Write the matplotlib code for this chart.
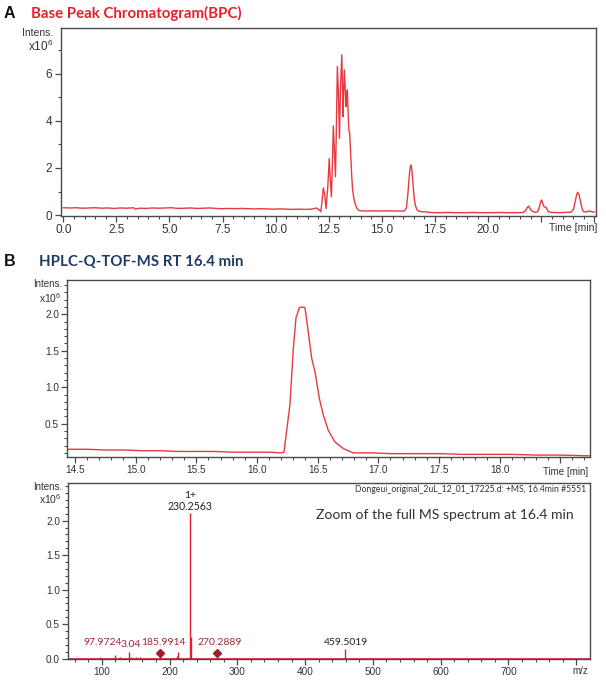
import matplotlib
matplotlib.use("Agg")
import matplotlib.pyplot as plt
from matplotlib.ticker import MultipleLocator

plt.rcParams['font.family'] = ['Liberation Sans', 'DejaVu Sans']
plt.rcParams['mathtext.default'] = 'regular'

# ---------------- data ----------------
# Panel A: base peak chromatogram (time in min, intensity x10^6)
bpc_time = [0.0, 0.3, 0.6, 0.9, 1.2, 1.5, 1.8, 2.1, 2.4, 2.7, 3.0, 3.3, 3.4, 3.6, 3.9,
            4.2, 4.5, 4.8, 5.1, 5.4, 5.7, 6.0, 6.3, 6.6, 6.9, 7.2, 7.5, 7.8, 8.1, 8.4,
            8.7, 9.0, 9.3, 9.6, 9.9, 10.2, 10.5, 10.8, 11.1, 11.4, 11.7, 11.9, 12.05,
            12.12, 12.17, 12.24, 12.30, 12.37, 12.45, 12.52, 12.57, 12.62, 12.67, 12.71,
            12.76, 12.81, 12.85, 12.90, 12.95, 13.00, 13.05, 13.11, 13.14, 13.17, 13.20,
            13.23, 13.27, 13.31, 13.34, 13.37, 13.40, 13.44, 13.48, 13.51, 13.55, 13.58,
            13.62, 13.67, 13.73, 13.80, 13.89, 14.0, 14.3, 14.6, 14.9, 15.2, 15.5, 15.8,
            16.05, 16.15, 16.22, 16.28, 16.33, 16.37, 16.41, 16.46, 16.52, 16.58, 16.65,
            16.75, 16.9, 17.1, 17.3, 17.5, 17.8, 18.1, 18.4, 18.7, 19.0, 19.3, 19.6, 19.9,
            20.2, 20.5, 20.8, 21.1, 21.4, 21.65, 21.75, 21.84, 21.91, 21.98, 22.05, 22.2,
            22.32, 22.40, 22.47, 22.52, 22.58, 22.63, 22.72, 22.78, 22.84, 23.0, 23.3,
            23.6, 23.9, 24.02, 24.10, 24.17, 24.22, 24.28, 24.36, 24.43, 24.49, 24.6,
            24.72, 24.80, 24.9, 25.0]
bpc_intensity = [0.31, 0.30, 0.31, 0.29, 0.30, 0.31, 0.29, 0.30, 0.28, 0.30, 0.29, 0.31, 0.25, 0.29, 0.28,
                 0.30, 0.29, 0.30, 0.31, 0.28, 0.29, 0.30, 0.28, 0.29, 0.30, 0.28, 0.27, 0.28, 0.27, 0.28,
                 0.27, 0.26, 0.27, 0.26, 0.25, 0.26, 0.25, 0.24, 0.25, 0.24, 0.25, 0.30, 0.22,
                 0.14, 0.50, 1.15, 0.90, 0.28, 1.20, 2.40, 1.50, 0.78, 2.20, 3.79,
                 2.80, 1.63, 3.50, 6.31, 5.20, 3.26, 5.50, 6.81, 5.60, 4.18, 5.30,
                 6.17, 5.40, 4.61, 5.00, 5.32, 4.50, 3.62, 3.49, 2.90, 2.06, 1.60,
                 1.06, 0.75, 0.50, 0.32, 0.21, 0.18, 0.17, 0.18, 0.17, 0.18, 0.17, 0.17,
                 0.17, 0.30, 0.90, 1.60, 2.05, 2.12, 1.90, 1.30, 0.70, 0.38, 0.22,
                 0.16, 0.14, 0.13, 0.11, 0.10, 0.10, 0.11, 0.10, 0.10, 0.10, 0.11, 0.10, 0.10,
                 0.10, 0.11, 0.10, 0.10, 0.10, 0.11, 0.18, 0.32, 0.38, 0.26, 0.17, 0.12,
                 0.13, 0.30, 0.58, 0.64, 0.45, 0.35, 0.33, 0.22, 0.14, 0.11, 0.10,
                 0.11, 0.12, 0.25, 0.60, 0.90, 0.97, 0.85, 0.50, 0.24, 0.14, 0.13,
                 0.16, 0.17, 0.13, 0.13]
bpc_xticks = [0.0, 2.5, 5.0, 7.5, 10.0, 12.5, 15.0, 17.5, 20.0, 22.5, 25.0]
bpc_xticklabels = ['0.0', '2.5', '5.0', '7.5', '10.0', '12.5', '15.0', '17.5', '20.0', '', '']
bpc_yticks = [0, 2, 4, 6]

# Panel B top: extracted chromatogram around RT 16.4 min
eic_time = [14.44, 14.6, 14.75, 14.9, 15.05, 15.2, 15.35, 15.5, 15.65, 15.8, 15.95, 16.1,
            16.2, 16.223, 16.272, 16.300, 16.322, 16.349, 16.372, 16.396, 16.423, 16.451,
            16.479, 16.514, 16.547, 16.588, 16.643, 16.712, 16.794, 16.95, 17.1, 17.3,
            17.5, 17.7, 17.9, 18.1, 18.3, 18.5, 18.74]
eic_intensity = [0.15, 0.15, 0.14, 0.14, 0.13, 0.13, 0.12, 0.12, 0.12, 0.11, 0.11, 0.11,
                 0.10, 0.11, 0.76, 1.53, 1.95, 2.09, 2.10, 2.09, 1.76, 1.40,
                 1.21, 0.85, 0.62, 0.41, 0.25, 0.16, 0.10, 0.10, 0.09, 0.09,
                 0.09, 0.08, 0.08, 0.08, 0.07, 0.07, 0.06]
eic_xticks = [14.5, 15.0, 15.5, 16.0, 16.5, 17.0, 17.5, 18.0, 18.5]
eic_xticklabels = ['14.5', '15.0', '15.5', '16.0', '16.5', '17.0', '17.5', '18.0', '']
eic_yticks = [0.5, 1.0, 1.5, 2.0]

# Panel B bottom: MS spectrum at 16.4 min
ms_mz = [97.97, 120.0, 127.0, 139.5, 143.04, 150.0, 156.6, 185.99, 210.6, 213.0,
         230.2563, 231.26, 270.29, 459.5019]
ms_intensity = [0.02, 0.05, 0.03, 0.10, 0.03, 0.02, 0.03, 0.02, 0.04, 0.09,
                2.11, 0.31, 0.01, 0.14]
ms_precursor_mz = [185.9914, 270.2889]
ms_precursor_int = [0.08, 0.08]
ms_labels = ['97.9724', '3.04', '185.9914', '270.2889', '459.5019']
ms_label_mz = [73.0, 127.0, 157.5, 241.0, 427.0]   # left edges of the peak labels
ms_label_y = [0.23, 0.21, 0.23, 0.23, 0.23]
ms_xticks = [100, 200, 300, 400, 500, 600, 700, 800]
ms_xticklabels = ['100', '200', '300', '400', '500', '600', '700', '']
ms_yticks = [0.0, 0.5, 1.0, 1.5, 2.0]

# ---------------- figure ----------------
W, H = 606, 683
fig = plt.figure(figsize=(W / 100, H / 100), dpi=100)

def px_axes(l, r, t, b):
    return fig.add_axes([l / W, 1 - b / H, (r - l) / W, (b - t) / H])

frame_c = '#4a4a4a'
tick_c = '#333333'
red = '#e63a42'

def style(ax, fs):
    for s in ax.spines.values():
        s.set_color(frame_c)
        s.set_linewidth(1.0)
    ax.tick_params(which='major', direction='out', length=4, width=0.9,
                   color=frame_c, labelsize=fs, labelcolor=tick_c, pad=2)
    ax.tick_params(which='minor', direction='out', length=2.2, width=0.8, color=frame_c)

# ---- Panel A ----
axA = px_axes(60.5, 595.5, 28, 215.5)
axA.plot(bpc_time, bpc_intensity, color=red, lw=1.0)
axA.set_xlim(-0.13, 25.05)
axA.set_ylim(-0.02, 7.95)
axA.set_xticks(bpc_xticks)
axA.set_xticklabels(bpc_xticklabels)
axA.xaxis.set_minor_locator(MultipleLocator(0.5))
axA.set_yticks(bpc_yticks)
axA.set_yticklabels([str(v) for v in bpc_yticks])
axA.yaxis.set_minor_locator(MultipleLocator(1))
style(axA, 8.5)
fig.text(597 / W, 1 - 228 / H, 'Time [min]', ha='right', va='center', fontsize=7.5, color=tick_c)
fig.text(53 / W, 1 - 33 / H, 'Intens.', ha='right', va='center', fontsize=7.5, color=tick_c)
fig.text(53 / W, 1 - 46 / H, 'x10$^{6}$', ha='right', va='center', fontsize=8.5, color=tick_c)
fig.text(4 / W, 1 - 13 / H, 'A', ha='left', va='center', fontsize=11.5, fontweight='bold', color='#111111')
fig.text(31 / W, 1 - 13 / H, 'Base Peak Chromatogram(BPC)', ha='left', va='center',
         fontsize=10.8, fontweight='bold', color='#e8202a', family=['Lato', 'DejaVu Sans'])

# ---- Panel B top ----
axB = px_axes(67.3, 589.7, 280, 456.7)
axB.plot(eic_time, eic_intensity, color=red, lw=1.0)
axB.set_xlim(14.437, 18.743)
axB.set_ylim(0.048, 2.47)
axB.set_xticks(eic_xticks)
axB.set_xticklabels(eic_xticklabels)
axB.xaxis.set_minor_locator(MultipleLocator(0.1))
axB.set_yticks(eic_yticks)
axB.set_yticklabels(['%.1f' % v for v in eic_yticks])
axB.yaxis.set_minor_locator(MultipleLocator(0.1))
style(axB, 7.2)
fig.text(588 / W, 1 - 472 / H, 'Time [min]', ha='right', va='center', fontsize=7, color=tick_c)
fig.text(62 / W, 1 - 284 / H, 'Intens.', ha='right', va='center', fontsize=7, color=tick_c)
fig.text(62 / W, 1 - 298 / H, 'x10$^{6}$', ha='right', va='center', fontsize=7.5, color=tick_c)
fig.text(4 / W, 1 - 262 / H, 'B', ha='left', va='center', fontsize=11.5, fontweight='bold', color='#111111')
fig.text(39 / W, 1 - 262 / H, 'HPLC-Q-TOF-MS RT 16.4 min', ha='left', va='center',
         fontsize=10.8, fontweight='bold', color='#1f3b63', family=['Lato', 'DejaVu Sans'])

# ---- Panel B bottom: spectrum ----
axS = px_axes(68.3, 589.7, 482.7, 659)
axS.vlines(ms_mz, 0, ms_intensity, color='#e02028', lw=1.0)
axS.axhline(0, color='#e02028', lw=1.2)
axS.plot(ms_precursor_mz, ms_precursor_int, linestyle='none', marker='D', ms=4.5,
         color='#a01c28')
axS.set_xlim(50.6, 819.8)
axS.set_ylim(-0.005, 2.55)
axS.set_xticks(ms_xticks)
axS.set_xticklabels(ms_xticklabels)
axS.xaxis.set_minor_locator(MultipleLocator(20))
axS.set_yticks(ms_yticks)
axS.set_yticklabels(['%.1f' % v for v in ms_yticks])
axS.yaxis.set_minor_locator(MultipleLocator(0.1))
style(axS, 7.2)
fig.text(588 / W, 1 - 671 / H, 'm/z', ha='right', va='center', fontsize=7, color=tick_c)
fig.text(62 / W, 1 - 487 / H, 'Intens.', ha='right', va='center', fontsize=7, color=tick_c)
fig.text(62 / W, 1 - 499 / H, 'x10$^{6}$', ha='right', va='center', fontsize=7.5, color=tick_c)

for lab, mz, yy in zip(ms_labels, ms_label_mz, ms_label_y):
    col = '#222222' if lab == '459.5019' else '#9e2a36'
    axS.text(mz, yy, lab, ha='left', va='center', fontsize=7.5, color=col,
             family=['Lato', 'DejaVu Sans'])
main_i = ms_intensity.index(max(ms_intensity))
axS.text(ms_mz[main_i], 2.37, '1+', ha='center', va='center', fontsize=7.5, color='#222222',
         family=['Lato', 'DejaVu Sans'])
axS.text(ms_mz[main_i], 2.2, '%.4f' % ms_mz[main_i], ha='center', va='center', fontsize=7.6,
         color='#222222', family=['Lato', 'DejaVu Sans'])
fig.text(586 / W, 1 - 489 / H, 'Dongeui_original_2uL_12_01_17225.d: +MS, 16.4min #5551',
         ha='right', va='center', fontsize=6.2, color='#333333', family=['Lato', 'DejaVu Sans'])
fig.text(316 / W, 1 - 515 / H, 'Zoom of the full MS spectrum at 16.4 min', ha='left',
         va='center', fontsize=10.1, color='#333333', family=['Lato', 'DejaVu Sans'])

fig.savefig('out.png', dpi=100)
